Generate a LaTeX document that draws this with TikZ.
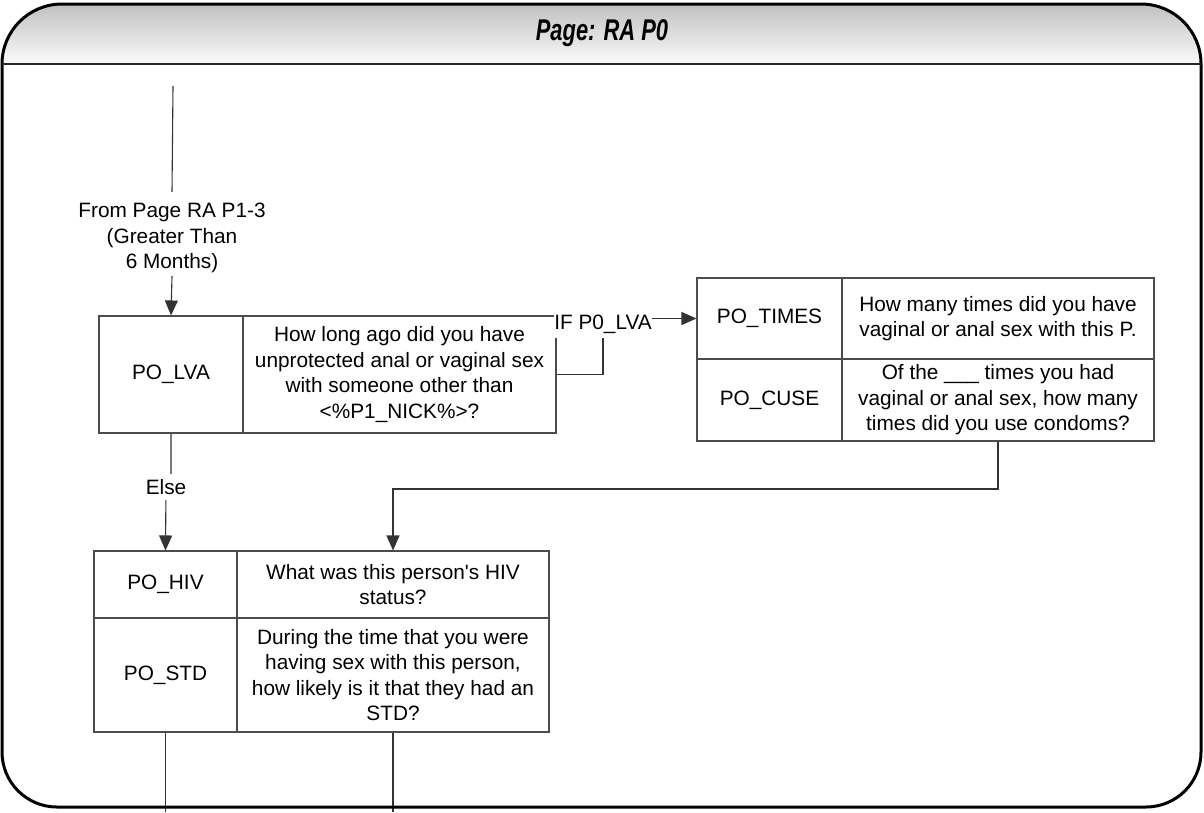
\documentclass[tikz,border=0pt]{standalone}
\usepackage{fontspec}
\setmainfont{Liberation Sans}
\usetikzlibrary{arrows.meta,backgrounds}
\newcommand\qfont{\fontsize{20.8}{25.5}\selectfont}
\newcommand\titlefont{\fontsize{30}{34}\selectfont\bfseries\itshape}
\begin{document}
\begin{tikzpicture}[x=1pt,y=-1pt,
  cell/.style={draw=black!70,line width=1.1pt,inner sep=0pt,align=center,font=\qfont},
  conn/.style={draw=black!80,line width=1.1pt},
  arr/.style={conn,-{Triangle[length=15pt,width=13pt]}},
  lbl/.style={fill=white,inner xsep=0pt,inner ysep=5pt,font=\qfont,align=center}]
\useasboundingbox (0,0) rectangle (1204,812);

% page header band: grey fading to near white from top to bottom
\begin{scope}
\clip (2,64) arc[start angle=180,end angle=270,radius=60] -- (1141,4)
  arc[start angle=270,end angle=360,radius=60] -- cycle;
\foreach \i in {0,...,60} {
  \pgfmathsetmacro\shadeval{25-23*\i/60}
  \fill[black!\shadeval] (0,3+\i) rectangle (1204,4.2+\i);
}
\end{scope}
% page frame
\draw[line width=3pt]
  (2,64) arc[start angle=180,end angle=270,radius=60] -- (1141,4)
  arc[start angle=270,end angle=360,radius=60] -- (1201,752)
  arc[start angle=0,end angle=90,radius=55] -- (57,807)
  arc[start angle=90,end angle=180,radius=55] -- cycle;
\draw[line width=2.5pt,black!85] (2,64) -- (1201,64);
\node[font=\titlefont] (title) at (602,33) {\scalebox{0.73}[1]{Page: RA P0}};

% question blocks
\node[cell,minimum width=144pt,minimum height=117pt] (lvaid) at (171,374.5) {PO\_LVA};
\node[cell,minimum width=313pt,minimum height=117pt] (lvaq) at (399.5,374.5)
  {How long ago did you have\\unprotected anal or vaginal sex\\with someone other than\\<\%P1\_NICK\%>?};

\node[cell,minimum width=145pt,minimum height=81pt] (timesid) at (769.5,318.5) {PO\_TIMES};
\node[cell,minimum width=312pt,minimum height=81pt] (timesq) at (998,318.5)
  {How many times did you have\\vaginal or anal sex with this P.};
\node[cell,minimum width=145pt,minimum height=82pt] (cuseid) at (769.5,400) {PO\_CUSE};
\node[cell,minimum width=312pt,minimum height=82pt] (cuseq) at (998,400)
  {Of the \_\_\_ times you had\\vaginal or anal sex, how many\\times did you use condoms?};

\node[cell,minimum width=143pt,minimum height=67pt] (hivid) at (165.5,584.5) {PO\_HIV};
\node[cell,minimum width=312pt,minimum height=67pt] (hivq) at (393,584.5)
  {What was this person\textquotesingle s HIV\\status?};
\node[cell,minimum width=143pt,minimum height=114pt] (stdid) at (165.5,675) {PO\_STD};
\node[cell,minimum width=312pt,minimum height=114pt] (stdq) at (393,675)
  {During the time that you were\\having sex with this person,\\how likely is it that they had an\\STD?};

% connector labels
\node[lbl,fill=none,inner ysep=3pt] (from) at (172,238) {From Page RA P1-3\\(Greater Than\\6 Months)};
\node[lbl] (ifl) at (603,324) {IF P0\_LVA};
\node[lbl] (els) at (166,487) {Else};

\coordinate (src) at (173,86);
\coordinate (j1) at (998,489);
\coordinate (bot) at (0,812);

% connectors
\begin{scope}[on background layer]
\draw[conn] (src) -- ([yshift=8pt]from.north);
\draw[arr] (from.south) -- (lvaid.north);
\draw[arr] (lvaq.east) -| (ifl.center |- timesid.west) -- (timesid.west);
\draw[arr] (lvaid.south) |- (els.center) -- (hivid.north);
\draw[arr] (cuseq.south) -- (j1) -| (hivq.north);
\draw[conn] (stdid.south) -- (stdid.south |- bot);
\draw[conn] (stdq.south) -- (stdq.south |- bot);
\end{scope}
\end{tikzpicture}
\end{document}
